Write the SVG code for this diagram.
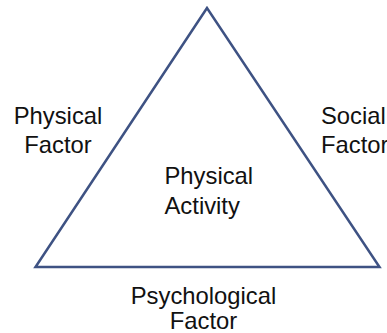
<svg xmlns="http://www.w3.org/2000/svg" width="387" height="333" viewBox="0 0 387 333">
<style>
.t{font-family:"Liberation Sans",Arial,sans-serif;font-size:23.8px;fill:#111}
.tri{fill:none;stroke:#3e5283;stroke-width:2.5;stroke-linejoin:miter}
</style>
<rect width="387" height="333" fill="#fff"/>
<g id="triangle">
<polygon class="tri" points="207,8 35.5,267 379.5,267"/>
</g>
<g id="center">
<text class="t" x="164.5" y="184">Physical</text>
<text class="t" x="164.5" y="214">Activity</text>
</g>
<g id="physical">
<text class="t" x="58" y="124" text-anchor="middle">Physical</text>
<text class="t" x="58" y="153" text-anchor="middle">Factor</text>
</g>
<g id="social">
<text class="t" x="321" y="124">Social</text>
<text class="t" x="321" y="153">Factor</text>
</g>
<g id="psychological">
<text class="t" x="203.5" y="304" text-anchor="middle">Psychological</text>
<text class="t" x="203.5" y="329" text-anchor="middle">Factor</text>
</g>
<g id="connectors"></g>
</svg>
